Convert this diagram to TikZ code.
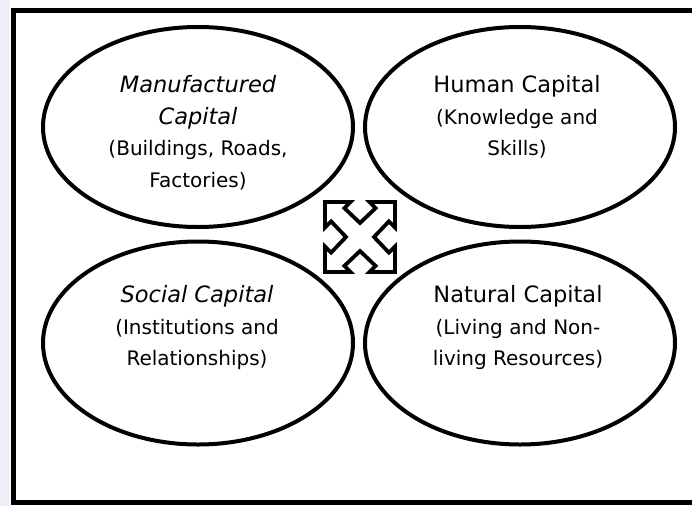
\documentclass[tikz,border=0pt]{standalone}
\usepackage{fontspec}
\setmainfont{DejaVu Sans}
\usetikzlibrary{shapes.geometric}
\newcommand{\subsz}{\fontsize{20}{31.5}\selectfont}
\tikzset{
  capital/.style={ellipse, draw=black, line width=4pt, inner sep=0pt,
    minimum width=310pt, minimum height=200pt},
  caption/.style={align=center, inner sep=0pt, text=black,
    font=\fontsize{22.5}{31.5}\selectfont},
  frameline/.style={draw=black, line width=5pt},
  iconline/.style={draw=black, fill=white, line width=3.8pt, line join=miter}
}
\begin{document}
\begin{tikzpicture}[x=1pt,y=-1pt]
\useasboundingbox (0,0) rectangle (692,506);
\fill[fill={rgb,255:red,238;green,238;blue,248}] (0,0) rectangle (10,506);
\fill[white] (10,0) rectangle (692,506);
\draw[frameline] (13,10) rectangle (705,502);

\node[capital] (manuf) at (198,127) {};
\node[capital] (human) at (520,127) {};
\node[capital, minimum height=203pt] (social) at (198,343) {};
\node[capital, minimum height=203pt] (natural) at (520,343) {};

\node[caption] (manuftext) at (198,133) {\itshape Manufactured\\\itshape Capital\\\subsz(Buildings, Roads,\\\subsz Factories)};
\node[caption] (humantext) at (517,117) {Human Capital\\\subsz(Knowledge and\\\subsz Skills)};
\node[caption] (socialtext) at (197,328) {\itshape Social Capital\\\subsz(Institutions and\\\subsz Relationships)};
\node[caption] (naturaltext) at (518,328) {Natural Capital\\\subsz(Living and Non-\\\subsz living Resources)};

\begin{scope}[shift={(360,237)}, x=35pt, y=35pt]
\path[iconline] (-1,1) -- (-0.27,1) -- (-0.445,0.825) -- (0,0.40) -- (0.445,0.825) -- (0.27,1)
  -- (1,1) -- (1,0.27) -- (0.825,0.445) -- (0.40,0) -- (0.825,-0.445) -- (1,-0.27)
  -- (1,-1) -- (0.27,-1) -- (0.445,-0.825) -- (0,-0.40) -- (-0.445,-0.825) -- (-0.27,-1)
  -- (-1,-1) -- (-1,-0.27) -- (-0.825,-0.445) -- (-0.40,0) -- (-0.825,0.445) -- (-1,0.27)
  -- cycle;
\end{scope}
\end{tikzpicture}
\end{document}
